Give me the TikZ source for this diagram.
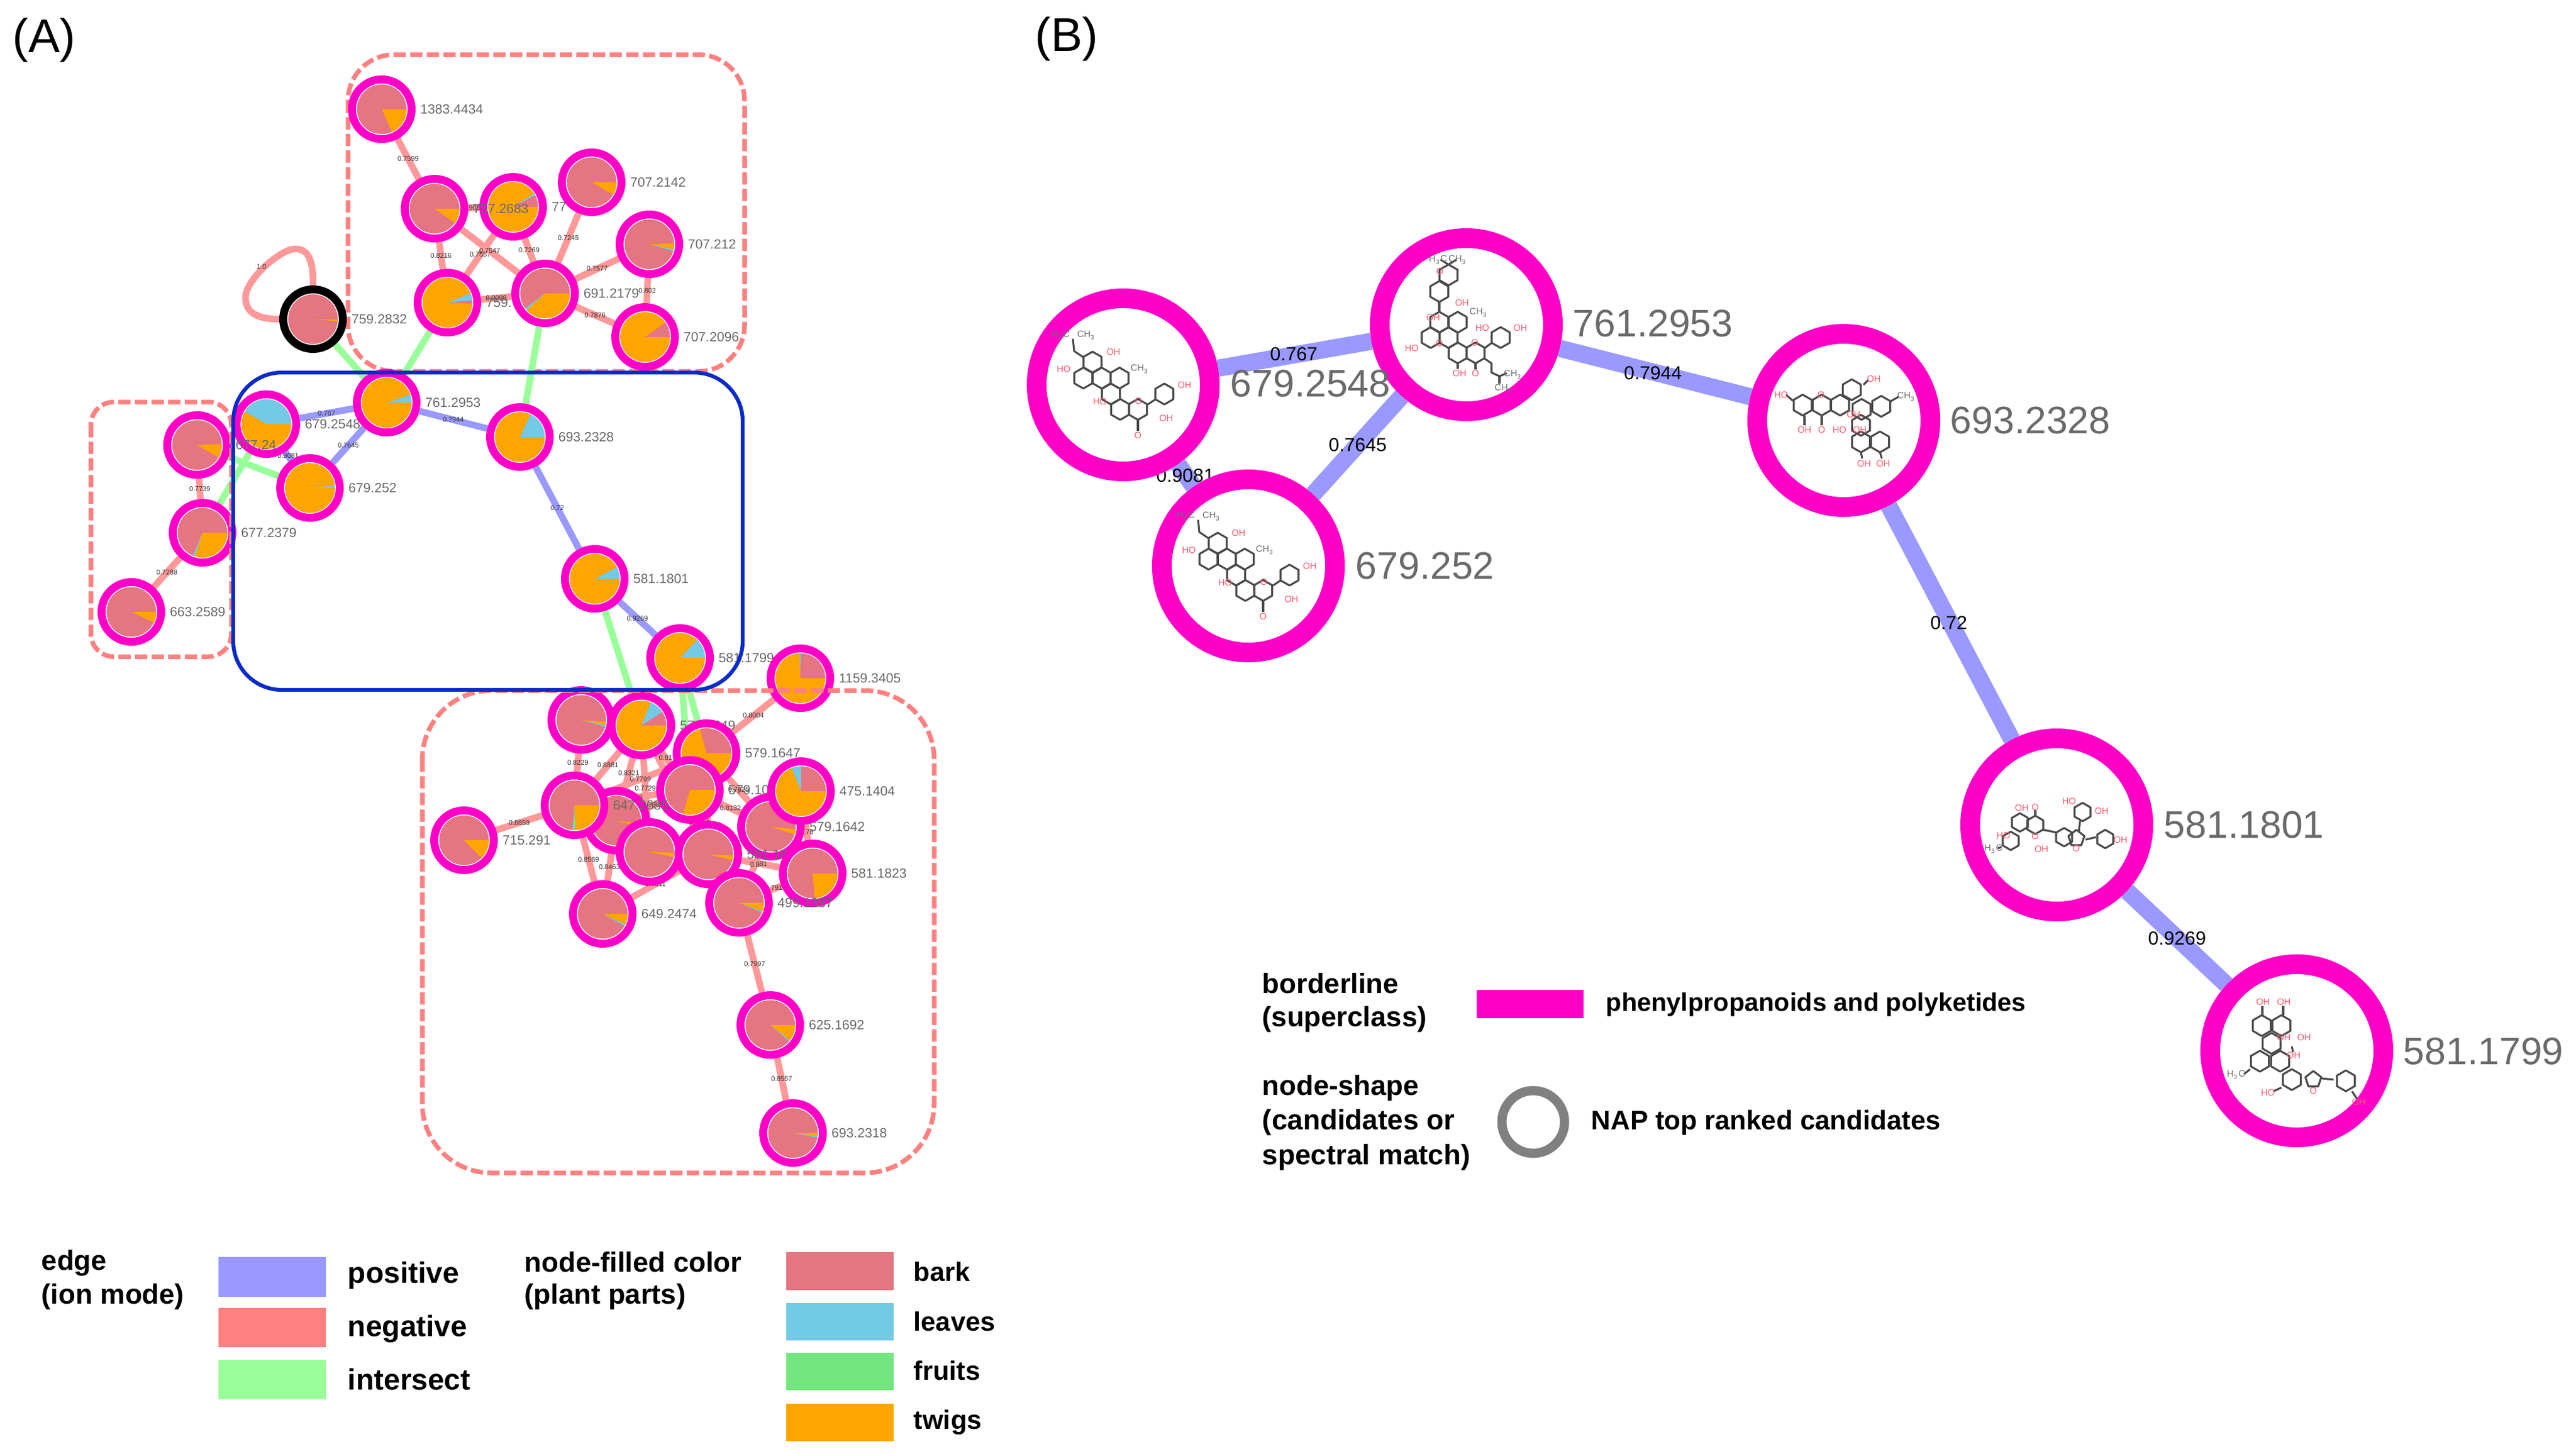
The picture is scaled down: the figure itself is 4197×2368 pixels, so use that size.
\documentclass[tikz,border=0pt]{standalone}
\usepackage{fontspec}
\setmainfont{Liberation Sans}
\usetikzlibrary{backgrounds}
\pgfdeclarelayer{edges}
\pgfsetlayers{edges,main}
\definecolor{barkc}{HTML}{E57580}
\definecolor{leafc}{HTML}{73CAE6}
\definecolor{fruitc}{HTML}{74E67F}
\definecolor{twigc}{HTML}{FFA500}
\definecolor{posc}{HTML}{9999FF}
\definecolor{negc}{HTML}{FF8080}
\definecolor{negedge}{HTML}{FF9898}
\definecolor{intc}{HTML}{99FF99}
\definecolor{ringc}{HTML}{FF00C8}
\definecolor{bluec}{HTML}{0A2BC8}
\definecolor{labc}{HTML}{6A6A6A}
\definecolor{atomred}{HTML}{FF5A6E}
\definecolor{bondc}{HTML}{4A4A4A}
\tikzset{
  pring/.style={circle,minimum size=23.3pt,inner sep=0pt,line width=3.1pt,fill=white},
  bring/.style={circle,draw=ringc,minimum size=67.7pt,inner sep=0pt,line width=7.7pt,fill=white},
  alab/.style={text=labc,inner sep=0pt,font=\fontsize{5.2}{6}\selectfont},
  blab/.style={text=labc,inner sep=0pt,anchor=west,font=\fontsize{15}{17}\selectfont},
  elab/.style={text=black!80,inner sep=0pt,font=\fontsize{2.7}{3}\selectfont},
  eblab/.style={text=black,inner sep=0pt,font=\fontsize{7.4}{9}\selectfont},
  epos/.style={draw=posc,line width=2.6pt},
  eneg/.style={draw=negedge,line width=2.6pt},
  eint/.style={draw=intc,line width=2.6pt},
  eposb/.style={draw=posc,line width=6.7pt},
  dashbox/.style={draw=negc,line width=1.8pt,dash pattern=on 4.8pt off 1.7pt},
  legA/.style={inner sep=0pt,anchor=west,font=\bfseries\fontsize{10.9}{13}\selectfont},
  legC/.style={inner sep=0pt,anchor=west,font=\bfseries\fontsize{11.5}{13}\selectfont},
  legD/.style={inner sep=0pt,anchor=west,font=\bfseries\fontsize{10.4}{13}\selectfont},
  legB/.style={inner sep=0pt,anchor=west,font=\bfseries\fontsize{9.95}{12}\selectfont},
  bond/.style={draw=bondc,line width=0.75pt,line join=round},
  atR/.style={text=atomred,inner sep=0pt,font=\fontsize{3.6}{4}\selectfont},
  atG/.style={text=bondc!80,inner sep=0pt,font=\fontsize{3.6}{4}\selectfont},
  panel/.style={inner sep=0pt,font=\fontsize{18.5}{21}\selectfont}
}
\newcounter{atm}
\newcounter{edg}
\newcommand{\pnode}[6]{%
  \node[pring,draw=#4] (#1) at (#2,#3) {};
  \fill[barkc] (#2,#3) circle[radius=9.7pt];
  \foreach \pa/\pb/\pc in {#6}{%
    \fill[fill=\pc] (#2,#3) -- plot[variable=\t,domain=\pa:\pb,samples=40] ({#2+40.5*cos(\t)},{#3-40.5*sin(\t)}) -- cycle;
  }%
  \node[alab,anchor=west] (#1l) at ({#2+62},#3) {#5};
}
\newcommand{\eg}[4]{%
  \stepcounter{edg}%
  \draw[#1] (#2) -- node[elab] (e\theedg) {#4} (#3);
}
\newcommand{\egb}[3]{\draw[#1] (#2) -- (#3);}
\newcommand{\hexr}[3]{%
  \draw[bond] ({#1},{#2-#3}) -- ({#1+.866*#3},{#2-.5*#3}) -- ({#1+.866*#3},{#2+.5*#3}) -- ({#1},{#2+#3}) -- ({#1-.866*#3},{#2+.5*#3}) -- ({#1-.866*#3},{#2-.5*#3}) -- cycle;
}
\newcommand{\pent}[2]{%
  \draw[bond] ({#1},{#2-14}) -- ({#1+13},{#2-4}) -- ({#1+8},{#2+11}) -- ({#1-8},{#2+11}) -- ({#1-13},{#2-4}) -- cycle;
}
\newcommand{\atm}[4]{%
  \stepcounter{atm}%
  \node[#1] (atom\theatm) at (#2,#3) {#4};
}
\newcommand{\molA}[2]{%
  \begin{scope}[shift={(#1,#2)}]
    \foreach \hx/\hy in {-50/-37,-65/-11,-35/-11,-6/-11,-20/15,-5/40,24/40,67/15}{\hexr{\hx}{\hy}{17}}
    \draw[bond] (-65,-45) -- (-80,-55) -- (-82,-75);
    \draw[bond] (40,32) -- (52,24);
    \draw[bond] (24,57) -- (24,75);
    \atm{atG}{-102}{-81}{H\textsubscript{3}C}
    \atm{atG}{-60}{-81}{CH\textsubscript{3}}
    \atm{atR}{-16}{-54}{OH}
    \atm{atR}{-97}{-26}{HO}
    \atm{atG}{27}{-26}{CH\textsubscript{3}}
    \atm{atR}{-38}{27}{HO}
    \atm{atR}{25}{26}{O}
    \atm{atR}{100}{0}{OH}
    \atm{atR}{70}{54}{OH}
    \atm{atR}{24}{82}{O}
  \end{scope}
}
\begin{document}
\begin{tikzpicture}[x=0.24pt,y=-0.24pt]
\useasboundingbox (0,0) rectangle (4197,2368);

\node[panel,anchor=west] (pa) at (20,66) {(A)};
\node[panel,anchor=west] (pb) at (1686,64) {(B)};

% ---------- panel A nodes: upper group
\pnode{nu}{622}{178}{ringc}{1383.4434}{0/-66/twigc}
\pnode{nB}{836}{337}{ringc}{77}{0/28/barkc,28/33/leafc,33/360/twigc}
\pnode{nA}{708}{340}{ringc}{757.2683}{0/-35/twigc}
\pnode{nc}{964}{297}{ringc}{707.2142}{0/-30/twigc}
\pnode{nd}{1058}{398}{ringc}{707.212}{2/-12/twigc,-12/-16/leafc}
\pnode{nTL}{729}{493}{ringc}{759.}{-3/5/barkc,5/22/leafc,22/357/twigc}
\pnode{nf}{888}{478}{ringc}{691.2179}{0/-138/twigc,-138/-143/leafc}
\pnode{ng}{1051}{549}{ringc}{707.2096}{0/36/barkc,36/360/twigc}
\pnode{nblk}{510}{520}{black}{759.2832}{-1/-5/twigc}

% middle
\pnode{ni}{330}{868}{ringc}{677.2379}{0/-108/twigc,-108/-113/leafc}
\pnode{nj}{214}{997}{ringc}{663.2589}{0/-25/twigc}
\pnode{nk}{434}{691}{ringc}{679.2548}{0/150/leafc,150/360/twigc}
\pnode{nl}{321}{725}{ringc}{677.24}{2/-30/twigc}
\pnode{nm}{505}{795}{ringc}{679.252}{0/6/leafc,6/360/twigc}
\pnode{nn}{630}{656}{ringc}{761.2953}{0/19/leafc,19/360/twigc}
\pnode{no}{847}{712}{ringc}{693.2328}{0/65/leafc,65/360/twigc}
\pnode{np}{969}{943}{ringc}{581.1801}{0/28/leafc,28/360/twigc}
\pnode{nq}{1108}{1072}{ringc}{581.1799}{0/47/leafc,47/360/twigc}

% lower group
\pnode{ra}{1304}{1105}{ringc}{1159.3405}{0/89/barkc,89/92/leafc,92/360/twigc}
\pnode{rb}{1004}{1337}{ringc}{}{-8/-16/twigc}
\pnode{rc}{947}{1173}{ringc}{}{-4/-12/twigc,-12/-16/leafc}
\pnode{rd}{1045}{1182}{ringc}{579.1649}{0/33/barkc,33/68/leafc,68/360/twigc}
\pnode{re}{1151}{1227}{ringc}{579.1647}{0/105/barkc,105/360/twigc}
\pnode{rf}{1124}{1287}{ringc}{579.1027}{0/-106/twigc}
\pnode{rg}{936}{1312}{ringc}{647.2685}{0/-88/twigc,-88/-92/fruitc,-92/-95/leafc}
\pnode{rh}{1256}{1347}{ringc}{579.1642}{-6/-18/twigc}
\pnode{ri}{1058}{1388}{ringc}{}{-2/-12/twigc}
\pnode{rj}{1154}{1392}{ringc}{581.1805}{-3/-14/twigc}
\pnode{rk}{1324}{1423}{ringc}{581.1823}{0/-85/twigc}
\pnode{rl}{1204}{1471}{ringc}{499.1387}{0/-20/twigc,-20/-23/leafc}
\pnode{rm}{1305}{1289}{ringc}{475.1404}{0/90/barkc,90/112/leafc,112/360/twigc}
\pnode{rn}{982}{1489}{ringc}{649.2474}{0/-25/twigc,-25/-29/leafc}
\pnode{ro}{756}{1369}{ringc}{715.291}{0/-45/twigc}
\pnode{rp}{1255}{1670}{ringc}{625.1692}{0/-38/twigc,-38/-41/leafc}
\pnode{rq}{1292}{1846}{ringc}{693.2318}{0/-8/twigc,-8/-11/leafc}

% ---------- panel A connectors
\begin{pgfonlayer}{edges}
\draw[dashbox,rounded corners=18pt] (567,89) rectangle (1213,605);
\draw[eneg] (nblk.90) .. controls (511,420) and (500,400) .. (472,407) .. controls (440,420) and (400,460) .. (400,485) .. controls (400,515) and (430,520) .. (nblk.180);
\node[elab] (eself) at (426,435) {1.0};
\eg{eneg}{nu}{nA}{0.7599}
\eg{eneg,line width=2.8pt}{nA}{nB}{0.9099}
\eg{eneg}{nA}{nTL}{0.8216}
\eg{eneg}{nB}{nTL}{0.7557}
\eg{eneg}{nA}{nf}{0.7547}
\eg{eneg}{nB}{nf}{0.7269}
\eg{eneg}{nc}{nf}{0.7245}
\eg{eneg}{nd}{nf}{0.7577}
\eg{eneg}{nd}{ng}{0.802}
\eg{eneg}{nf}{ng}{0.7876}
\eg{eneg}{nTL}{nf}{0.9098}
\egb{eint}{nblk}{nn}
\egb{eint}{nTL}{nn}
\egb{eint}{nf}{no}
\eg{epos}{nk}{nn}{0.767}
\eg{epos}{nk}{nm}{0.9081}
\eg{epos}{nn}{nm}{0.7645}
\eg{epos}{nn}{no}{0.7944}
\eg{epos}{no}{np}{0.72}
\eg{epos}{np}{nq}{0.9269}
\egb{eint}{nm}{nl}
\egb{eint}{ni}{nk}
\eg{eneg}{nl}{ni}{0.7739}
\eg{eneg}{ni}{nj}{0.7288}
\egb{eint}{np}{rd}
\egb{eint}{nq}{rf}
\egb{eint}{nq}{re}
\eg{eneg}{ra}{re}{0.8004}
\eg{eneg}{rc}{rg}{0.8229}
\eg{eneg}{rd}{rg}{0.8881}
\eg{eneg}{rd}{rb}{0.8321}
\eg{eneg}{rd}{ri}{0.7729}
\eg{eneg}{rd}{rj}{0.7511}
\eg{eneg}{rd}{rf}{0.81}
\eg{eneg}{rg}{re}{0.7799}
\eg{eneg}{rb}{rf}{0.7805}
\eg{eneg}{rg}{rf}{0.7738}
\eg{eneg}{ro}{rg}{0.8859}
\eg{eneg}{rg}{rn}{0.8569}
\eg{eneg}{rb}{rn}{0.8463}
\eg{eneg}{rb}{rg}{0.8102}
\eg{eneg}{rn}{rj}{0.7811}
\eg{eneg}{re}{rh}{0.7625}
\eg{eneg}{rf}{rh}{0.8132}
\eg{eneg}{re}{rj}{0.7919}
\eg{eneg}{rf}{rj}{0.7744}
\eg{eneg}{rf}{rl}{0.8015}
\eg{eneg}{rj}{rk}{0.81}
\eg{eneg}{rh}{rl}{0.8}
\eg{eneg}{rl}{rk}{0.7915}
\eg{eneg}{rm}{rk}{0.78}
\eg{eneg}{rl}{rp}{0.7997}
\eg{eneg}{rp}{rq}{0.8557}
\end{pgfonlayer}

% group outlines on top
\draw[dashbox,rounded corners=9pt] (148,655) rectangle (377,1070);
\draw[dashbox,rounded corners=27pt] (688,1125) rectangle (1522,1911);
\draw[draw=bluec,line width=1.5pt,rounded corners=19pt] (380,607) rectangle (1210,1124);

% ---------- legend A
\fill[posc] (356,2048) rectangle (531,2113);
\fill[negc] (356,2131) rectangle (531,2195);
\fill[intc] (356,2216) rectangle (531,2280);
\fill[barkc] (1281,2040) rectangle (1456,2102);
\fill[leafc] (1281,2123) rectangle (1456,2184);
\fill[fruitc] (1281,2204) rectangle (1456,2265);
\fill[twigc] (1281,2287) rectangle (1456,2348);
\node[legA] (la1) at (67,2058) {edge};
\node[legA] (la2) at (67,2113) {(ion mode)};
\node[legC] (la3) at (566,2078) {positive};
\node[legC] (la4) at (566,2165) {negative};
\node[legC] (la5) at (566,2247) {intersect};
\node[legA] (la6) at (854,2056) {node-filled color};
\node[legA] (la7) at (854,2113) {(plant parts)};
\node[legD] (la8) at (1488,2072) {bark};
\node[legD] (la9) at (1488,2153) {leaves};
\node[legD] (la10) at (1488,2233) {fruits};
\node[legD] (la11) at (1488,2317) {twigs};

% ---------- panel B
\node[bring] (b1) at (1830,627) {};
\node[bring] (b2) at (2389,529) {};
\node[bring] (b3) at (2034,922) {};
\node[bring] (b4) at (3004,685) {};
\node[bring] (b5) at (3351,1344) {};
\node[bring] (b6) at (3742,1712) {};
\begin{pgfonlayer}{edges}
\egb{eposb}{b1}{b2}
\egb{eposb}{b1}{b3}
\egb{eposb}{b2}{b3}
\egb{eposb}{b2}{b4}
\egb{eposb}{b4}{b5}
\egb{eposb}{b5}{b6}
\end{pgfonlayer}
\node[eblab] (lb1) at (2108,577) {0.767};
\node[eblab] (lb2) at (2212,725) {0.7645};
\node[eblab] (lb4) at (2693,608) {0.7944};
\node[eblab] (lb5) at (3175,1015) {0.72};
\node[eblab] (lb6) at (3547,1529) {0.9269};
\begin{pgfonlayer}{edges}
\node[eblab] (lb3) at (1931,775) {0.9081};
\end{pgfonlayer}
\node[blab] (bl1) at (2004,625) {679.2548};
\node[blab] (bl2) at (2562,527) {761.2953};
\node[blab] (bl3) at (2208,922) {679.252};
\node[blab] (bl4) at (3177,685) {693.2328};
\node[blab] (bl5) at (3525,1344) {581.1801};
\node[blab] (bl6) at (3915,1713) {581.1799};

% molecules
\molA{1830}{627}
\molA{2034}{922}

% 761.2953
\begin{scope}[shift={(2389,529)}]
  \foreach \hx/\hy in {-29/-81,-44/-54,-44/-4,-14/-4,-29/21,-58/21,-14/46,15/46,56/21}{\hexr{\hx}{\hy}{17}}
  \draw[bond] (-44,-37) -- (-44,-21);
  \draw[bond] (-29,-98) -- (-42,-106);
  \draw[bond] (-29,-98) -- (-16,-106);
  \draw[bond] (30,38) -- (41,30);
  \draw[bond] (15,63) -- (15,73);
  \draw[bond] (28,54) -- (41,63) -- (41,78) -- (54,84) -- (66,79);
  \draw[bond] (54,84) -- (54,96);
  \draw[bond] (-14,63) -- (-14,72);
  \atm{atG}{-46}{-106}{H\textsubscript{3}C}
  \atm{atG}{-14}{-106}{CH\textsubscript{3}}
  \atm{atR}{-43}{-87}{O}
  \atm{atR}{-7}{-36}{OH}
  \atm{atR}{-54}{-12}{OH}
  \atm{atG}{20}{-20}{CH\textsubscript{3}}
  \atm{atR}{26}{5}{HO}
  \atm{atR}{88}{5}{OH}
  \atm{atR}{-89}{38}{HO}
  \atm{atR}{-44}{30}{O}
  \atm{atR}{14}{29}{O}
  \atm{atR}{-11}{79}{OH}
  \atm{atR}{15}{79}{O}
  \atm{atG}{76}{81}{CH\textsubscript{3}}
  \atm{atG}{61}{104}{CH\textsubscript{3}}
\end{scope}

% 693.2328
\begin{scope}[shift={(3004,685)}]
  \foreach \hx/\hy in {-67/-25,-36/-25,-6/-25,13/-50,29/-18,61/-23,28/8,28/35,59/35}{\hexr{\hx}{\hy}{17}}
  \draw[bond] (-36,-8) -- (-36,8);
  \draw[bond] (76,-31) -- (90,-39);
  \draw[bond] (-83,-32) -- (-94,-42);
  \draw[bond] (-64,-8) -- (-64,8);
  \draw[bond] (32,-58) -- (40,-66);
  \draw[bond] (28,52) -- (30,62);
  \draw[bond] (59,52) -- (62,62);
  \atm{atR}{-102}{-42}{HO}
  \atm{atR}{-37}{-42}{O}
  \atm{atR}{-64}{15}{OH}
  \atm{atR}{-36}{15}{O}
  \atm{atR}{49}{-68}{OH}
  \atm{atG}{102}{-39}{CH\textsubscript{3}}
  \atm{atR}{16}{-10}{OH}
  \atm{atR}{-7}{15}{HO}
  \atm{atR}{26}{15}{OH}
  \atm{atR}{33}{70}{OH}
  \atm{atR}{64}{70}{OH}
\end{scope}

% 581.1801
\begin{scope}[shift={(3351,1344)}]
  \foreach \hx/\hy in {-60/-4,-35/0,-75/26,12/20,42/-21,79/23}{\hexr{\hx}{\hy}{15}}
  \pent{32}{22}
  \draw[bond] (-22,8) -- (-2,12);
  \draw[bond] (38,-6) -- (36,10);
  \draw[bond] (47,24) -- (64,20);
  \draw[bond] (-35,-15) -- (-35,-24);
  \draw[bond] (-90,36) -- (-96,38);
  \atm{atR}{-57}{-28}{OH}
  \atm{atR}{-35}{-29}{O}
  \atm{atR}{-35}{18}{O}
  \atm{atR}{-87}{17}{HO}
  \atm{atG}{-103}{39}{H\textsubscript{3}C}
  \atm{atR}{-25}{39}{OH}
  \atm{atR}{32}{38}{O}
  \atm{atR}{20}{-39}{HO}
  \atm{atR}{73}{-23}{OH}
  \atm{atR}{104}{24}{OH}
\end{scope}

% 581.1799
\begin{scope}[shift={(3742,1712)}]
  \foreach \hx/\hy in {-57/-41,-25/-41,-41/-12,-60/17,-27/17,-8/47,80/49}{\hexr{\hx}{\hy}{17}}
  \pent{27}{47}
  \draw[bond] (-56,-58) -- (-56,-73);
  \draw[bond] (-22,-58) -- (-22,-73);
  \draw[bond] (-8,-7) -- (-6,2);
  \draw[bond] (41,45) -- (60,47);
  \draw[bond] (-76,30) -- (-86,38);
  \draw[bond] (-25,60) -- (-38,66);
  \draw[bond] (90,66) -- (98,78);
  \atm{atR}{-55}{-80}{OH}
  \atm{atR}{-21}{-80}{OH}
  \atm{atR}{12}{-22}{OH}
  \atm{atR}{-21}{-22}{OH}
  \atm{atR}{-5}{7}{OH}
  \atm{atG}{-99}{39}{H\textsubscript{3}C}
  \atm{atR}{-47}{68}{HO}
  \atm{atR}{27}{65}{O}
  \atm{atR}{101}{83}{OH}
\end{scope}

% ---------- legend B
\node[legA] (lc1) at (2056,1602) {borderline};
\node[legA] (lc2) at (2056,1661) {(superclass)};
\fill[ringc] (2406,1613) rectangle (2580,1659);
\node[legB] (lc3) at (2616,1637) {phenylpropanoids and polyketides};
\node[legA] (lc4) at (2056,1773) {node-shape};
\node[legA,font=\bfseries\fontsize{11}{13}\selectfont] (lc5) at (2056,1829) {(candidates or};
\node[legA,font=\bfseries\fontsize{11}{13}\selectfont] (lc6) at (2056,1886) {spectral match)};
\node[circle,draw=black!50,line width=3.6pt,minimum size=24.5pt,inner sep=0pt] (lc7) at (2498,1828) {};
\node[legA,font=\bfseries\fontsize{10.5}{12}\selectfont] (lc8) at (2592,1829) {NAP top ranked candidates};
\end{tikzpicture}
\end{document}
